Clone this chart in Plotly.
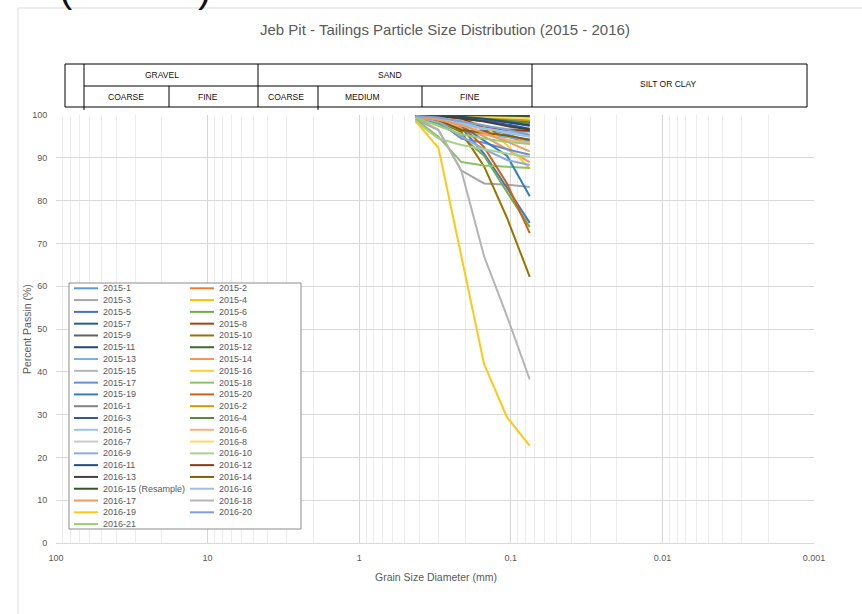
import plotly.graph_objects as go

# ---------------- data ----------------
sieve_mm = [0.425, 0.3, 0.212, 0.15, 0.106, 0.075]

series_names = [
    "2015-1", "2015-2", "2015-3", "2015-4", "2015-5", "2015-6", "2015-7", "2015-8",
    "2015-9", "2015-10", "2015-11", "2015-12", "2015-13", "2015-14", "2015-15", "2015-16",
    "2015-17", "2015-18", "2015-19", "2015-20",
    "2016-1", "2016-2", "2016-3", "2016-4", "2016-5", "2016-6", "2016-7", "2016-8",
    "2016-9", "2016-10", "2016-11", "2016-12", "2016-13", "2016-14", "2016-15 (Resample)",
    "2016-16", "2016-17", "2016-18", "2016-19", "2016-20", "2016-21",
]

series_values = [
    [100, 99.6, 98.8, 97.5, 95.5, 93.8],   # 2015-1
    [99.8, 99.2, 98.0, 96.5, 95.0, 93.3],  # 2015-2
    [99.0, 96.5, 87.0, 84.0, 83.7, 83.2],  # 2015-3
    [99.9, 99.7, 99.3, 98.8, 97.5, 95.0],  # 2015-4
    [99.8, 99.0, 97.0, 91.0, 83.0, 74.8],  # 2015-5
    [99.5, 98.0, 95.0, 90.5, 82.0, 73.8],  # 2015-6
    [100, 99.8, 99.4, 98.9, 98.3, 97.5],   # 2015-7
    [100, 99.7, 99.0, 98.6, 98.5, 98.4],   # 2015-8
    [100, 99.4, 96.3, 96.2, 96.1, 96.0],   # 2015-9
    [99.5, 98.5, 96.0, 88.0, 76.0, 62.2],  # 2015-10
    [100, 99.9, 99.7, 99.3, 98.8, 98.2],   # 2015-11
    [100, 100, 99.9, 99.8, 99.7, 99.6],    # 2015-12
    [99.6, 98.5, 96.5, 95.5, 94.8, 94.3],  # 2015-13
    [99.5, 98.5, 97.0, 95.0, 92.0, 89.0],  # 2015-14
    [99.5, 99.0, 98.0, 97.3, 96.8, 96.4],  # 2015-15
    [99.8, 99.5, 99.0, 97.5, 93.0, 87.4],  # 2015-16
    [99.7, 98.5, 94.5, 93.5, 92.0, 90.7],  # 2015-17
    [99.0, 94.9, 89.0, 88.2, 87.9, 87.6],  # 2015-18
    [99.5, 99.0, 97.5, 94.0, 90.5, 81.0],  # 2015-19
    [99.8, 99.2, 97.5, 92.5, 84.0, 72.4],  # 2015-20
    [100, 99.8, 99.5, 99.2, 98.9, 98.6],   # 2016-1
    [100, 99.9, 99.6, 99.3, 99.0, 98.8],   # 2016-2
    [100, 99.8, 99.2, 98.6, 97.8, 96.8],   # 2016-3
    [100, 99.9, 99.5, 99.1, 98.7, 98.1],   # 2016-4
    [99.8, 99.3, 98.2, 97.0, 95.8, 94.9],  # 2016-5
    [99.7, 99.2, 97.7, 95.5, 94.2, 93.6],  # 2016-6
    [99.6, 98.5, 97.5, 96.8, 96.2, 95.9],  # 2016-7
    [100, 99.9, 99.8, 99.6, 99.4, 99.2],   # 2016-8
    [99.5, 98.5, 95.0, 92.0, 89.5, 88.3],  # 2016-9
    [98.5, 94.5, 93.0, 92.0, 91.0, 90.2],  # 2016-10
    [100, 99.9, 99.6, 99.1, 98.4, 97.6],   # 2016-11
    [100, 99.8, 99.2, 97.0, 96.5, 96.3],   # 2016-12
    [100, 99.8, 99.3, 98.5, 97.4, 96.6],   # 2016-13
    [99.8, 98.8, 96.5, 95.8, 95.2, 94.2],  # 2016-14
    [100, 100, 100, 99.9, 99.9, 99.8],     # 2016-15 (Resample)
    [99.7, 99.0, 97.8, 96.9, 96.0, 95.2],  # 2016-16
    [99.6, 98.9, 97.6, 95.8, 93.8, 91.5],  # 2016-17
    [99.5, 96.5, 87.0, 67.0, 53.0, 38.2],  # 2016-18
    [98.6, 92.3, 67.0, 41.8, 29.4, 22.7],  # 2016-19
    [99.8, 99.4, 98.5, 97.6, 96.6, 95.4],  # 2016-20
    [99.4, 97.5, 95.5, 94.5, 93.7, 93.2],  # 2016-21
]

series_colors = [
    "#5B9BD5", "#ED7D31", "#A5A5A5", "#FFC000", "#4472C4", "#70AD47", "#255E91", "#9E480E",
    "#636363", "#997300", "#264478", "#43682B", "#7CAFDD", "#F1975A", "#B7B7B7", "#FFCD33",
    "#698ED0", "#8CC168", "#327DC2", "#D26012",
    "#848484", "#CC9A00", "#335AA1", "#5A8A39", "#9DC3E6", "#F4B183", "#C9C9C9", "#FFD966",
    "#8FAADC", "#A9D18E", "#1F4E79", "#843C0C", "#404040", "#7F6000", "#375623",
    "#9BC2E6", "#F19A60", "#B4B4B4", "#FFC819", "#7F9FD9", "#9BCB7A",
]

x_tick_vals = [100, 10, 1, 0.1, 0.01, 0.001]
x_tick_text = ["100", "10", "1", "0.1", "0.01", "0.001"]
y_tick_vals = [0, 10, 20, 30, 40, 50, 60, 70, 80, 90, 100]

title_text = "Jeb Pit - Tailings Particle Size Distribution (2015 - 2016)"
x_title = "Grain Size Diameter (mm)"
y_title = "Percent Passin (%)"

# ---------------- layout helpers ----------------
W, H = 862, 614
ML, MR, MT, MB = 56, 48, 115, 71
PW, PH = W - ML - MR, H - MT - MB


def px(x):
    return (x - ML) / PW


def py(y):
    return (H - MB - y) / PH


FONT = "Liberation Sans, Arial, sans-serif"
GREY_TXT = "#595959"

fig = go.Figure()
for name, vals, col in zip(series_names, series_values, series_colors):
    fig.add_trace(go.Scatter(
        x=sieve_mm, y=vals, mode="lines", name=name,
        line=dict(color=col, width=2), showlegend=False,
    ))

minor_vals = [k * 10 ** e for e in range(-3, 2) for k in range(2, 10)]

fig.update_xaxes(
    type="log", range=[2, -3], tickmode="array", tickvals=x_tick_vals, ticktext=x_tick_text,
    showgrid=True, gridcolor="#D6D6D6", gridwidth=1,
    minor=dict(tickmode="array", tickvals=minor_vals, showgrid=True, gridcolor="#EDEDED", gridwidth=1),
    showline=True, linecolor="#D9D9D9", linewidth=1, zeroline=False,
    ticks="outside", ticklen=6, tickcolor="rgba(0,0,0,0)",
    tickfont=dict(family=FONT, size=9, color=GREY_TXT),
)
fig.update_yaxes(
    range=[0, 100], tickmode="array", tickvals=y_tick_vals,
    showgrid=True, gridcolor="#D9D9D9", gridwidth=1, zeroline=False, showline=False,
    ticks="outside", ticklen=6, tickcolor="rgba(0,0,0,0)",
    tickfont=dict(family=FONT, size=9, color=GREY_TXT),
)

shapes = []
annotations = []

# chart frame
shapes.append(dict(type="rect", xref="paper", yref="paper", x0=px(18), y0=py(640), x1=px(880),
                   y1=py(8), line=dict(color="#D9D9D9", width=1), layer="below"))

# cut-off text fragment at the very top
for xx, ch in [(66, "("), (204, ")")]:
    annotations.append(dict(xref="paper", yref="paper", x=px(xx), y=py(12), text=ch, showarrow=False,
                            xanchor="center", yanchor="bottom", font=dict(family=FONT, size=40, color="#111111")))

# title
annotations.append(dict(xref="paper", yref="paper", x=px(445), y=py(30), text=title_text, showarrow=False,
                        xanchor="center", yanchor="middle", font=dict(family=FONT, size=15, color=GREY_TXT)))
# axis titles
annotations.append(dict(xref="paper", yref="paper", x=px(436), y=py(577), text=x_title, showarrow=False,
                        xanchor="center", yanchor="middle", font=dict(family=FONT, size=10.5, color=GREY_TXT)))
annotations.append(dict(xref="paper", yref="paper", x=px(27), y=py(329), text=y_title, showarrow=False,
                        textangle=-90, xanchor="center", yanchor="middle",
                        font=dict(family=FONT, size=10.5, color=GREY_TXT)))

# soil classification header table (pixel geometry)
TL = dict(color="#000000", width=1)


def seg(x0, y0, x1, y1):
    shapes.append(dict(type="line", xref="paper", yref="paper", x0=px(x0), y0=py(y0), x1=px(x1), y1=py(y1),
                       line=TL))


seg(65, 64, 807, 64)
seg(65, 107, 807, 107)
seg(65, 64, 65, 107)
seg(807, 64, 807, 107)
seg(84, 64, 84, 110)
seg(258, 64, 258, 107)
seg(532, 64, 532, 107)
seg(84, 86, 532, 86)
seg(169, 86, 169, 107)
seg(318, 86, 318, 110)
seg(422, 86, 422, 107)

header_labels = [
    ("GRAVEL", 162, 75), ("SAND", 390, 75), ("SILT OR CLAY", 668, 84),
    ("COARSE", 126, 97), ("FINE", 208, 97), ("COARSE", 286, 97), ("MEDIUM", 362, 97), ("FINE", 470, 97),
]
for t, xx, yy in header_labels:
    annotations.append(dict(xref="paper", yref="paper", x=px(xx), y=py(yy), text=t, showarrow=False,
                            xanchor="center", yanchor="middle", font=dict(family=FONT, size=8.5, color="#111111")))

# legend (built manually to get Excel-like compact rows)
shapes.append(dict(type="rect", xref="paper", yref="paper", x0=px(69), y0=py(529), x1=px(301), y1=py(283),
                   line=dict(color="#8C8C8C", width=1), fillcolor="white", layer="above"))
row0, drow = 288.3, 11.79
for i, (name, col) in enumerate(zip(series_names, series_colors)):
    r, c = divmod(i, 2)
    yy = row0 + r * drow
    lx0, lx1, tx = (74, 98, 100.5) if c == 0 else (190, 214, 217)
    shapes.append(dict(type="line", xref="paper", yref="paper", x0=px(lx0), x1=px(lx1), y0=py(yy), y1=py(yy),
                       line=dict(color=col, width=2), layer="above"))
    annotations.append(dict(xref="paper", yref="paper", x=px(tx), y=py(yy), text=name, showarrow=False,
                            xanchor="left", yanchor="middle", font=dict(family=FONT, size=9, color=GREY_TXT)))

fig.update_layout(
    width=W, height=H, margin=dict(l=ML, r=MR, t=MT, b=MB),
    paper_bgcolor="white", plot_bgcolor="white",
    shapes=shapes, annotations=annotations, showlegend=False,
)

fig.write_html("out.html")
